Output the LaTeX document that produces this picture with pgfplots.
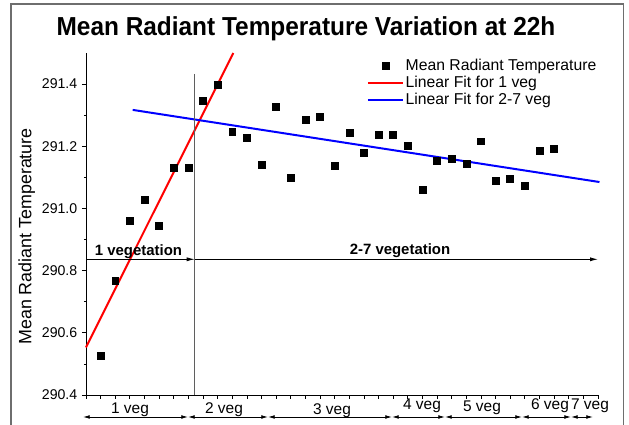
\documentclass[border=0pt]{standalone}
\usepackage{fontspec}
\setmainfont{Liberation Sans}
\usepackage{pgfplots}
\pgfplotsset{compat=1.18}
\usetikzlibrary{arrows.meta}

\definecolor{framegray}{RGB}{110,110,110}
\definecolor{splitgray}{RGB}{95,95,95}

\pgfplotsset{
  marklegend/.style={legend image code/.code={\draw[mark repeat=2, mark phase=2, ##1]
    plot coordinates {(0pt,0pt) (13.1pt,0pt) (26.25pt,0pt)};}},
  linelegend/.style={legend image code/.code={\draw[##1] (0pt,0pt) -- (26.25pt,0pt);}},
}

\begin{document}
\begin{tikzpicture}[x=0.75pt,y=0.75pt]
\useasboundingbox (0,0) rectangle (629,425);
% outer frame; its lower edge runs below the page
\draw[framegray, line width=1pt] (11,-20) -- (11,421) -- (623.5,421) -- (623.5,-20);

\node[anchor=base, inner sep=0pt, font=\bfseries\fontsize{19.5}{22}\selectfont]
  at (306,389) {\scalebox{0.939}[1]{Mean Radiant Temperature Variation at 22h}};

\begin{axis}[
  at={(64.5pt,22.5pt)}, anchor=south west,
  scale only axis, width=384pt, height=256.5pt,
  xmin=0, xmax=35, ymin=290.4, ymax=291.5,
  axis x line*=bottom, axis y line*=left,
  axis line style={-, line width=0.7pt, black},
  xtick={0,...,35}, xticklabels={},
  ytick={290.4,290.6,290.8,291.0,291.2,291.4},
  minor y tick num=1,
  tick align=outside,
  major tick length=3pt, minor tick length=1.6pt,
  tick style={black, line width=0.6pt},
  /pgf/number format/fixed,
  /pgf/number format/fixed zerofill,
  /pgf/number format/precision=1,
  /pgf/number format/assume math mode=true,
  yticklabel style={font=\fontsize{10.6}{12}\selectfont},
  clip=false,
  legend cell align=left,
  legend style={draw=none, fill=none, at={(0.548,0.988)}, anchor=north west,
    font=\fontsize{11.8}{13}\selectfont, inner sep=0pt, row sep=0pt,
    nodes={inner sep=1.4pt}},
]
\addplot[only marks, mark=square*, mark size=2.6pt, black, marklegend]
coordinates {
  (1,290.527) (2,290.768) (3,290.961) (4,291.029) (5,290.945)
  (6,291.131) (7,291.131) (8,291.345) (9,291.397) (10,291.248)
  (11,291.226) (12,291.142) (13,291.326) (14,291.100) (15,291.284)
  (16,291.296) (17,291.137) (18,291.242) (19,291.178) (20,291.237)
  (21,291.237) (22,291.202) (23,291.059) (24,291.152) (25,291.160)
  (26,291.143) (27,291.216) (28,291.089) (29,291.094) (30,291.074)
  (31,291.185) (32,291.191)
};
\addlegendentry{Mean Radiant Temperature}
\addplot[red, line width=1.5pt, linelegend]
coordinates {(0,290.553) (10.07,291.5)};
\addlegendentry{Linear Fit for 1 veg}
\addplot[blue, line width=1.5pt, linelegend]
coordinates {(3.19,291.317) (35.1,291.085)};
\addlegendentry{Linear Fit for 2-7 veg}
\end{axis}

% split between the 1-vegetation and 2-7-vegetation groups
\draw[splitgray, line width=0.8pt] (194.7,351) -- (194.7,30);
\draw[line width=0.6pt, -{Latex[length=6pt,width=3pt]}] (86,165.7) -- (194.7,165.7);
\draw[line width=0.6pt, -{Latex[length=6pt,width=3pt]}] (194.7,165.7) -- (598,165.7);
\node[anchor=base, inner sep=0pt, font=\bfseries\fontsize{11.2}{12}\selectfont] at (138.5,169) {1 vegetation};
\node[anchor=base, inner sep=0pt, font=\bfseries\fontsize{11.2}{12}\selectfont] at (400,170) {2-7 vegetation};

% vegetation-count ranges below the x axis
\foreach \a/\b in {83/188,188/268,268/392,392/445,445/522,522/571,571/593}
  \draw[line width=0.6pt, {Latex[length=5pt,width=2.8pt]}-{Latex[length=5pt,width=2.8pt]}] (\a,8) -- (\b,8);
\begin{scope}[every node/.style={inner sep=0pt, font=\fontsize{11.6}{13}\selectfont}]
  \node at (130,15) {1 veg};
  \node at (224,15) {2 veg};
  \node at (332,14) {3 veg};
  \node at (422,19) {4 veg};
  \node at (482,17) {5 veg};
  \node at (550,19) {6 veg};
  \node at (590,19) {7 veg};
\end{scope}

\node[rotate=90, inner sep=0pt, font=\fontsize{13.4}{15}\selectfont] at (26.7,188.5) {Mean Radiant Temperature};
\end{tikzpicture}
\end{document}
